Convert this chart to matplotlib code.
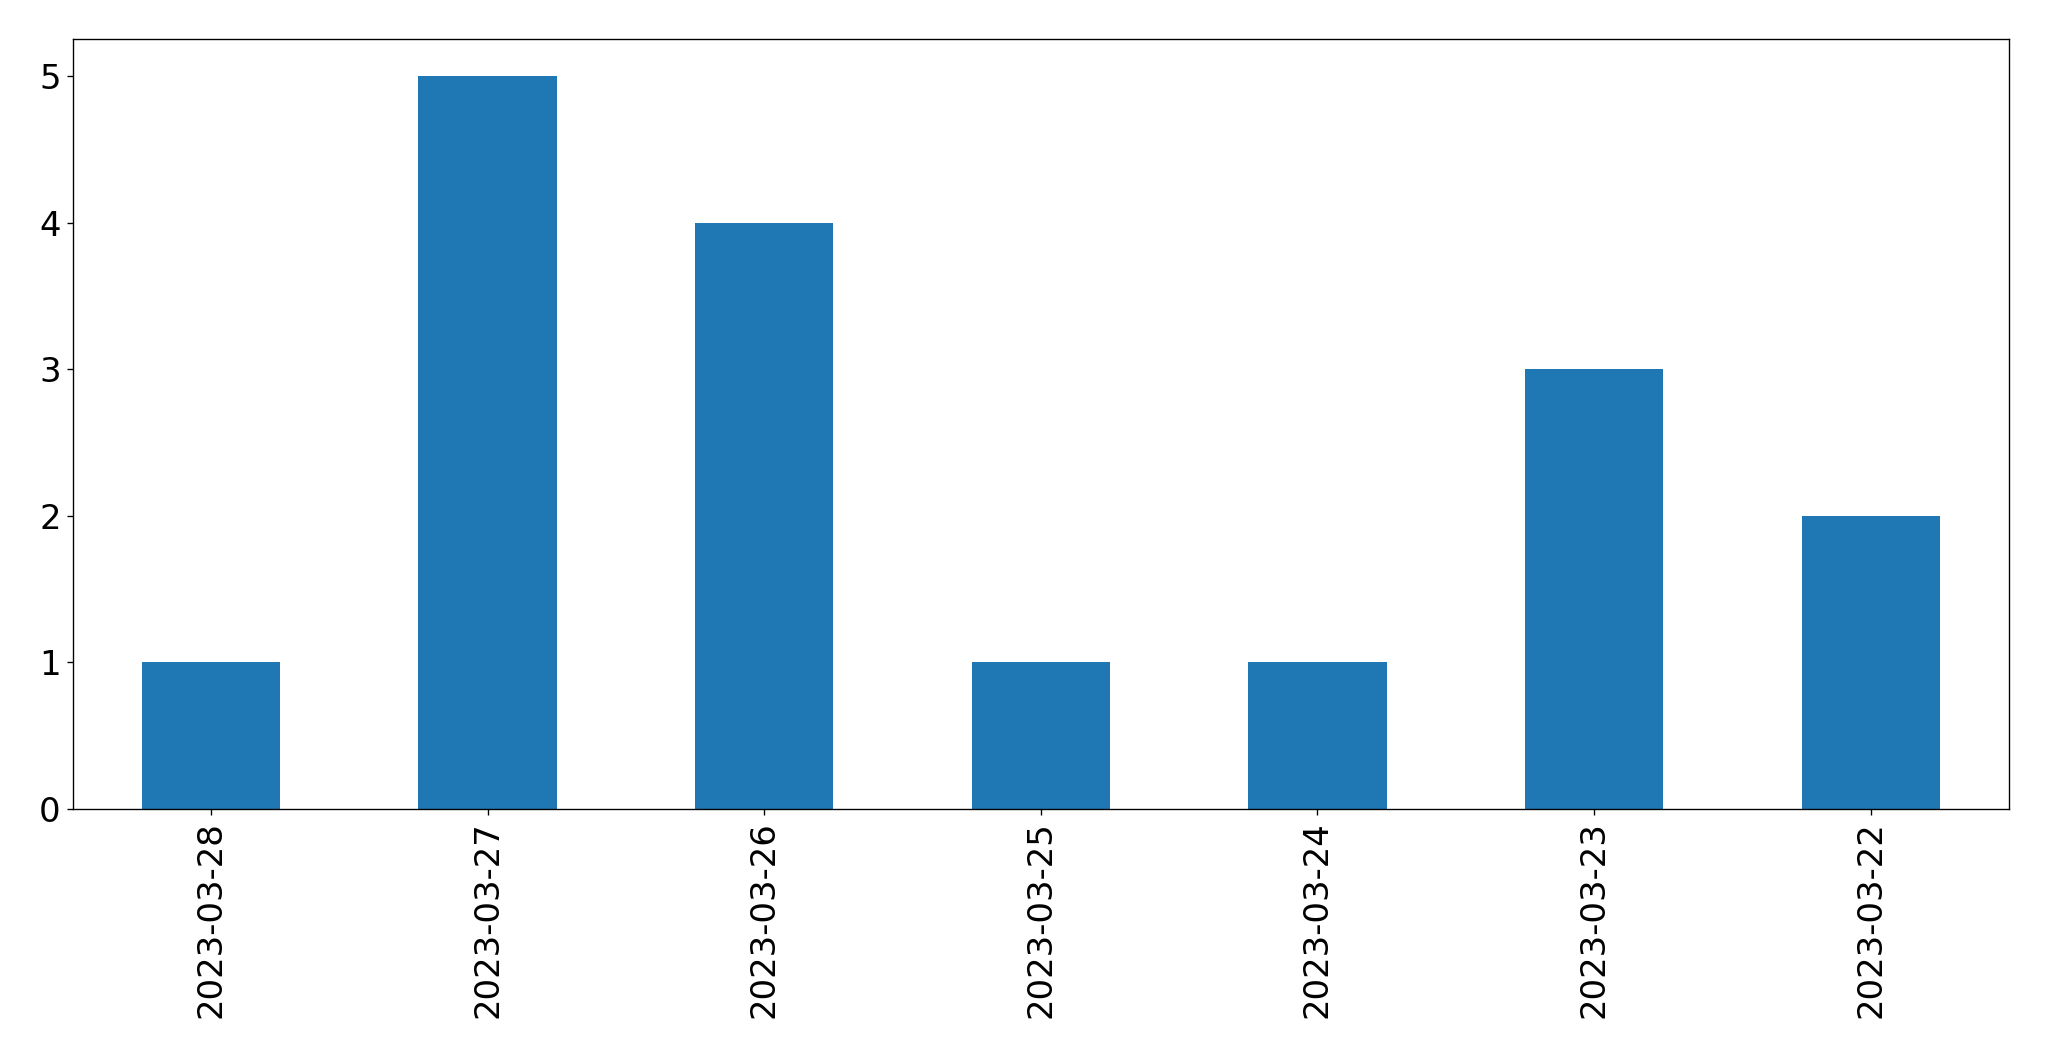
import matplotlib.pyplot as plt
import pandas as pd

dates = ["2023-03-28", "2023-03-27", "2023-03-26", "2023-03-25",
         "2023-03-24", "2023-03-23", "2023-03-22"]
counts = [1, 5, 4, 1, 1, 3, 2]

s = pd.Series(counts, index=dates)

fig, ax = plt.subplots(figsize=(2049 / 122, 1061 / 122), dpi=122)
s.plot(kind="bar", ax=ax, color="#1f77b4", fontsize=20)
ax.tick_params(axis="both", labelsize=20)
fig.subplots_adjust(left=0.0354, right=0.9805, top=0.9628, bottom=0.2375)

fig.savefig("out.png", dpi=122)
